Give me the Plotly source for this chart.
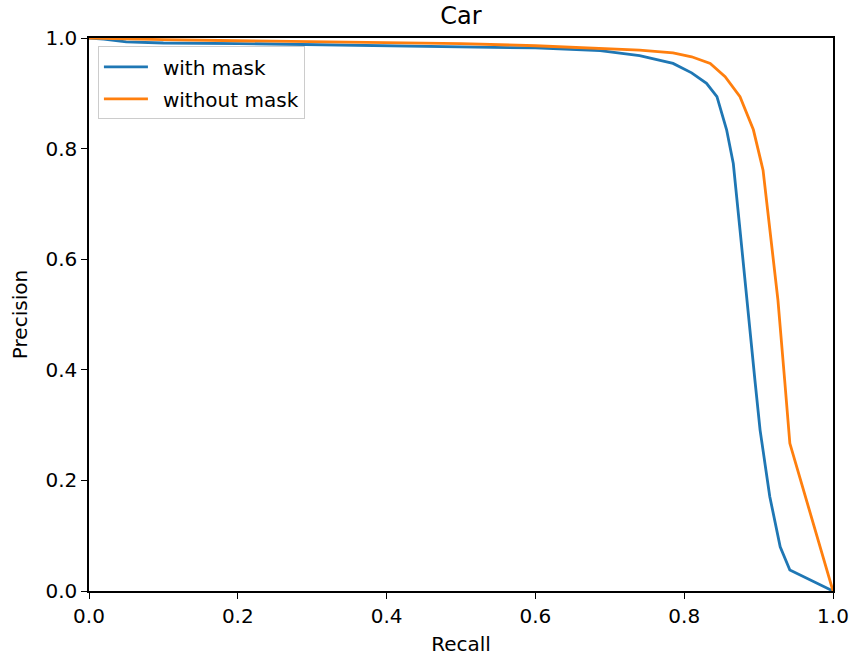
import plotly.graph_objects as go

recall_mask = [0, 0.02, 0.05, 0.1, 0.2, 0.3, 0.4, 0.5, 0.6, 0.687, 0.74, 0.785, 0.81, 0.83, 0.844,
               0.857, 0.866, 0.875, 0.884, 0.895, 0.902, 0.915, 0.929, 0.942, 1.0]
precision_mask = [1.0, 0.998, 0.993, 0.991, 0.99, 0.988, 0.987, 0.985, 0.982, 0.977, 0.968, 0.954,
                  0.937, 0.918, 0.894, 0.834, 0.773, 0.653, 0.526, 0.382, 0.291, 0.171, 0.080, 0.038, 0.0]

recall_nomask = [0, 0.05, 0.1, 0.2, 0.3, 0.4, 0.5, 0.6, 0.687, 0.74, 0.785, 0.81, 0.835, 0.855,
                 0.875, 0.893, 0.906, 0.915, 0.926, 0.935, 0.942, 1.0]
precision_nomask = [1.0, 0.998, 0.997, 0.995, 0.993, 0.991, 0.99, 0.986, 0.981, 0.978, 0.973, 0.966,
                    0.954, 0.93, 0.894, 0.834, 0.761, 0.653, 0.526, 0.382, 0.267, 0.0]

series_names = ["with mask", "without mask"]

ticks = [0.0, 0.2, 0.4, 0.6, 0.8, 1.0]
tick_text = ["0.0", "0.2", "0.4", "0.6", "0.8", "1.0"]

FONT = "DejaVu Sans"
PAD = "\u2002"

fig = go.Figure()
fig.add_trace(go.Scatter(x=recall_mask, y=precision_mask, mode="lines", name=PAD + series_names[0],
                         legendgroup="a", line=dict(color="#1f77b4", width=2.8)))
fig.add_trace(go.Scatter(x=recall_nomask, y=precision_nomask, mode="lines", name=PAD + series_names[1],
                         legendgroup="b", line=dict(color="#ff7f0e", width=2.8)))

axis_common = dict(
    range=[0, 1], tickvals=ticks, ticktext=tick_text, showgrid=False, zeroline=False,
    showline=True, mirror=True, linecolor="black", linewidth=1.5,
    ticks="outside", ticklen=6, tickwidth=1.3, tickcolor="black",
    tickfont=dict(family=FONT, size=20, color="black"),
    automargin=False, ticklabeloverflow="allow",
)

fig.update_layout(
    width=852, height=657,
    margin=dict(l=89, r=19, t=38, b=66),
    paper_bgcolor="white", plot_bgcolor="white",
    title=dict(text="Car", x=0.5, xref="paper", xanchor="center", y=1 - 16 / 657, yanchor="middle",
               font=dict(family=FONT, size=24, color="black")),
    xaxis=dict(**axis_common, title=dict(text="Recall", standoff=10,
                                         font=dict(family=FONT, size=20, color="black"))),
    yaxis=dict(**axis_common, title=dict(text="Precision", standoff=12,
                                         font=dict(family=FONT, size=20, color="black"))),
    legend=dict(x=0.012, y=0.985, xanchor="left", yanchor="top",
                bgcolor="rgba(255,255,255,0.8)", bordercolor="#cccccc", borderwidth=1,
                itemwidth=44,
                font=dict(family=FONT, size=20, color="black"), tracegroupgap=3),
    showlegend=True,
)

fig.write_html("out.html")
